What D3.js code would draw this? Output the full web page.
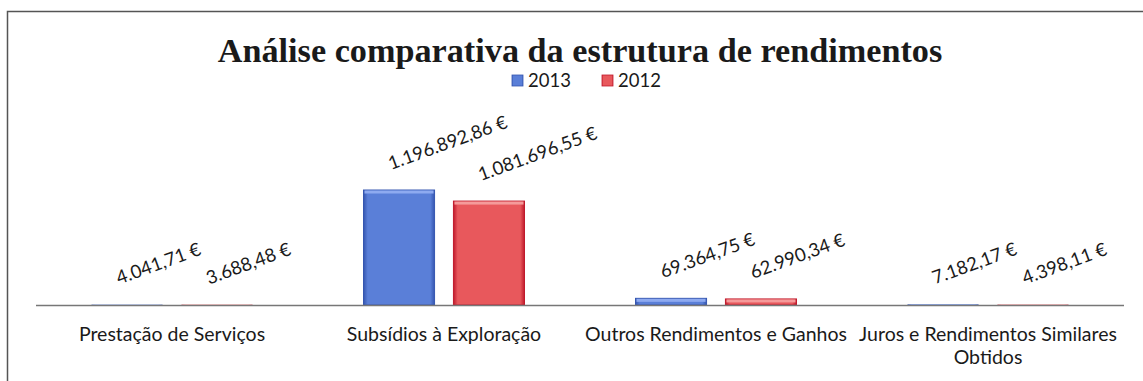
<!DOCTYPE html>
<html>
<head>
<meta charset="utf-8">
<script src="https://cdn.jsdelivr.net/npm/d3@7"></script>
<style>
body { margin: 0; background: #fff; }
</style>
</head>
<body>
<script>
var w = 1143, h = 381;

var categories = [
  ["Prestação de Serviços"],
  ["Subsídios à Exploração"],
  ["Outros Rendimentos e Ganhos"],
  ["Juros e Rendimentos Similares", "Obtidos"]
];
var years = ["2013", "2012"];
var values2013 = [4041.71, 1196892.86, 69364.75, 7182.17];
var values2012 = [3688.48, 1081696.55, 62990.34, 4398.11];
var labels2013 = ["4.041,71 €", "1.196.892,86 €", "69.364,75 €", "7.182,17 €"];
var labels2012 = ["3.688,48 €", "1.081.696,55 €", "62.990,34 €", "4.398,11 €"];

var colors = {
  "2013": { fill: "#5a7fd8", light: "#8eaaf0", dark: "#3556b0" },
  "2012": { fill: "#e8585c", light: "#f59a9a", dark: "#c01a2c" }
};

var svg = d3.select("body").append("svg")
    .attr("width", w)
    .attr("height", h)
    .style("font-family", "Lato, 'Noto Sans', sans-serif");

var defs = svg.append("defs");
years.forEach(function (y) {
  var c = colors[y];
  var g = defs.append("linearGradient").attr("id", "grad" + y)
      .attr("x1", 0).attr("x2", 1).attr("y1", 0).attr("y2", 0);
  g.append("stop").attr("offset", "0%").attr("stop-color", c.dark);
  g.append("stop").attr("offset", "6%").attr("stop-color", c.fill);
  g.append("stop").attr("offset", "94%").attr("stop-color", c.fill);
  g.append("stop").attr("offset", "100%").attr("stop-color", c.dark);
});

// outer frame
svg.append("rect")
    .attr("x", 7.5).attr("y", 11.5)
    .attr("width", w + 20).attr("height", h + 20)
    .attr("fill", "none").attr("stroke", "#555").attr("stroke-width", 1.5);

// title, sized to the width seen in the picture
var title = svg.append("text")
    .attr("x", 580).attr("y", 62)
    .attr("text-anchor", "middle")
    .style("font-family", "'Liberation Serif', 'DejaVu Serif', serif")
    .style("font-weight", "bold")
    .style("font-size", "32px")
    .attr("fill", "#1a1a1a")
    .text("Análise comparativa da estrutura de rendimentos");
var tw = title.node().getComputedTextLength();
title.style("font-size", (32 * 725 / tw) + "px");

// legend
var legendX = [512, 602];
years.forEach(function (y, i) {
  var lg = svg.append("g").attr("transform", "translate(" + legendX[i] + ",73)");
  lg.append("rect").attr("width", 11).attr("height", 11).attr("y", 2)
      .attr("fill", "url(#grad" + y + ")").attr("stroke", colors[y].dark).attr("stroke-width", 0.8);
  lg.append("text").attr("x", 16).attr("y", 14)
      .style("font-size", "18.5px").attr("fill", "#1a1a1a").text(y);
});

// scales
var x0 = d3.scaleBand().domain(d3.range(categories.length)).range([36, 1124]);
var x1 = d3.scaleBand().domain(years).range([55.5, x0.bandwidth() - 55.5]).paddingInner(0.21);
var y = d3.scaleLinear().domain([0, 1400000]).range([305, 170.5]);

var series = { "2013": values2013, "2012": values2012 };
var seriesLabels = { "2013": labels2013, "2012": labels2012 };

var groups = svg.selectAll(".cat").data(categories).enter().append("g")
    .attr("class", "cat")
    .attr("transform", function (d, i) { return "translate(" + x0(i) + ",0)"; });

function barH(yr, i) { return y(0) - y(series[yr][i]); }

years.forEach(function (yr) {
  groups.append("rect")
      .attr("x", x1(yr))
      .attr("width", x1.bandwidth())
      .attr("y", function (d, i) { return y(series[yr][i]); })
      .attr("height", function (d, i) { return barH(yr, i); })
      .attr("fill", "url(#grad" + yr + ")")
      .attr("stroke", function (d, i) { return barH(yr, i) < 2 ? "none" : colors[yr].dark; })
      .attr("stroke-width", 1);
  // top highlight strip
  groups.append("rect")
      .attr("x", x1(yr) + 1)
      .attr("width", x1.bandwidth() - 2)
      .attr("y", function (d, i) { return y(series[yr][i]) + 0.5; })
      .attr("height", function (d, i) { return Math.min(3, Math.max(0, barH(yr, i) - 2)); })
      .attr("fill", colors[yr].light);
  // value labels
  groups.append("text")
      .attr("transform", function (d, i) {
        var cx = x1(yr) + x1.bandwidth() / 2 - 8;
        var cy = y(series[yr][i]) - 20;
        return "translate(" + cx + "," + cy + ") rotate(-20)";
      })
      .style("font-size", "18.5px")
      .attr("fill", "#1a1a1a")
      .text(function (d, i) { return seriesLabels[yr][i]; });
});

// axis line
svg.append("line")
    .attr("x1", 36).attr("x2", 1124).attr("y1", 305.5).attr("y2", 305.5)
    .attr("stroke", "#777").attr("stroke-width", 1.5);

// category labels
groups.append("text")
    .attr("x", x0.bandwidth() / 2)
    .attr("y", 341)
    .attr("text-anchor", "middle")
    .style("font-size", "19.5px")
    .attr("fill", "#1a1a1a")
    .selectAll("tspan").data(function (d) { return d; }).enter().append("tspan")
    .attr("x", x0.bandwidth() / 2)
    .attr("dy", function (d, i) { return i ? 23 : 0; })
    .text(function (d) { return d; });
</script>
</body>
</html>
